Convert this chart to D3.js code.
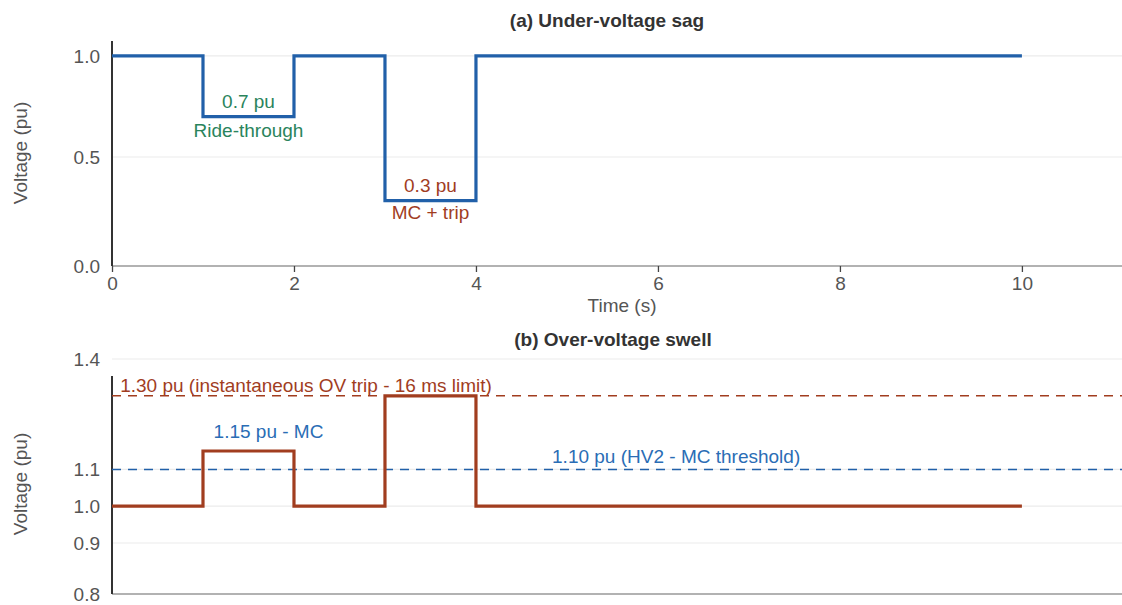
<!DOCTYPE html>
<html lang="en">

<head>
  <meta charset="UTF-8">
  <title>Voltage sag and swell</title>
  <script src="https://d3js.org/d3.v7.min.js"></script>
  <style>
    body { margin: 0; background: #fff; }
    text { font-family: "Liberation Sans", Arial, sans-serif; }
  </style>
</head>

<body>
  <script>
    // time breakpoints (s), step held until next point
    const times = [0, 1, 2, 3, 4, 10];
    const sagValues = [1.0, 0.7, 1.0, 0.3, 1.0, 1.0];
    const swellValues = [1.0, 1.15, 1.0, 1.3, 1.0, 1.0];

    const xTicks = [0, 2, 4, 6, 8, 10];
    const sagTicks = [0, 0.5, 1.0];
    const swellTicks = [0.8, 0.9, 1.0, 1.1, 1.4];

    const thresholdValues = [1.30, 1.10];
    const thresholdLabels = ['1.30 pu (instantaneous OV trip - 16 ms limit)', '1.10 pu (HV2 - MC threshold)'];

    const w = 1122;
    const h = 605;

    const blue = '#2160a9';
    const red = '#a13d1f';
    const green = '#2a845c';
    const labelSize = 19;

    const svg = d3.select('body')
      .append('svg')
      .attr('width', w)
      .attr('height', h)

    const xScale = d3.scaleLinear()
      .domain([0, 11.1])
      .range([112, 1122]);

    // the axis bottoms sit a little below the lowest labelled tick
    const ySag = d3.scaleLinear()
      .domain([0, 0.5, 1.074])
      .range([266, 157, 41]);

    const ySwell = d3.scaleLinear()
      .domain([0.8, 0.9, 1.4])
      .range([594, 543, 359]);

    function panel(y, ticks, yTop, yBottom) {
      const g = svg.append('g');

      // grid
      g.selectAll('.grid')
        .data(ticks.filter(t => y(t) < yBottom - 1))
        .enter()
        .append('line')
        .attr('x1', xScale.range()[0])
        .attr('x2', xScale.range()[1])
        .attr('y1', d => y(d))
        .attr('y2', d => y(d))
        .attr('stroke', '#ebebeb')
        .attr('stroke-width', 1.2)

      // y tick labels
      const yAxis = d3.axisLeft(y)
        .tickValues(ticks)
        .tickSize(0)
        .tickPadding(12)
        .tickFormat(d3.format('.1f'))

      g.append('g')
        .attr('transform', `translate(${xScale.range()[0]},0)`)
        .call(yAxis)
        .call(a => a.select('.domain').remove())
        .call(a => a.selectAll('text')
          .attr('font-size', 19)
          .attr('fill', '#555')
          .attr('font-family', '"Liberation Sans", Arial, sans-serif'))

      // x axis line
      g.append('line')
        .attr('x1', xScale.range()[0])
        .attr('x2', xScale.range()[1])
        .attr('y1', yBottom)
        .attr('y2', yBottom)
        .attr('stroke', '#999')
        .attr('stroke-width', 1.5)

      // y axis line
      g.append('line')
        .attr('x1', xScale.range()[0])
        .attr('x2', xScale.range()[0])
        .attr('y1', yTop)
        .attr('y2', yBottom)
        .attr('stroke', '#333')
        .attr('stroke-width', 2)

      return g;
    }

    // ---------- (a) sag ----------
    const sagPanel = panel(ySag, sagTicks, 41, 266);

    const xAxis = d3.axisBottom(xScale)
      .tickValues(xTicks)
      .tickSize(6)
      .tickPadding(5)

    sagPanel.append('g')
      .attr('transform', 'translate(0,266)')
      .call(xAxis)
      .call(a => a.select('.domain').remove())
      .call(a => a.selectAll('line').attr('stroke', '#444').attr('stroke-width', 1.3))
      .call(a => a.selectAll('text')
        .attr('font-size', 19)
        .attr('fill', '#555')
        .attr('font-family', '"Liberation Sans", Arial, sans-serif'))

    const sagLine = d3.line()
      .x((d, i) => xScale(times[i]))
      .y(d => ySag(d))
      .curve(d3.curveStepAfter)

    sagPanel.append('path')
      .datum(sagValues)
      .attr('d', sagLine)
      .attr('fill', 'none')
      .attr('stroke', blue)
      .attr('stroke-width', 3.2)

    sagPanel.append('text')
      .attr('x', xScale(1.5)).attr('y', ySag(0.7) - 15).attr('dy', '0.35em')
      .attr('text-anchor', 'middle').attr('font-size', labelSize).attr('fill', green)
      .text('0.7 pu')
    sagPanel.append('text')
      .attr('x', xScale(1.5)).attr('y', ySag(0.7) + 14).attr('dy', '0.35em')
      .attr('text-anchor', 'middle').attr('font-size', labelSize).attr('fill', green)
      .text('Ride-through')
    sagPanel.append('text')
      .attr('x', xScale(3.5)).attr('y', ySag(0.3) - 15).attr('dy', '0.35em')
      .attr('text-anchor', 'middle').attr('font-size', labelSize).attr('fill', red)
      .text('0.3 pu')
    sagPanel.append('text')
      .attr('x', xScale(3.5)).attr('y', ySag(0.3) + 12).attr('dy', '0.35em')
      .attr('text-anchor', 'middle').attr('font-size', labelSize).attr('fill', red)
      .text('MC + trip')

    svg.append('text')
      .attr('x', 607).attr('y', 20).attr('dy', '0.35em')
      .attr('text-anchor', 'middle').attr('font-size', 19).attr('font-weight', 'bold').attr('fill', '#333')
      .text('(a) Under-voltage sag')

    svg.append('text')
      .attr('x', 622).attr('y', 305).attr('dy', '0.35em')
      .attr('text-anchor', 'middle').attr('font-size', 19).attr('fill', '#555')
      .text('Time (s)')

    svg.append('text')
      .attr('transform', 'translate(20,153) rotate(-90)').attr('dy', '0.35em')
      .attr('text-anchor', 'middle').attr('font-size', 19).attr('fill', '#555')
      .text('Voltage (pu)')

    // ---------- (b) swell ----------
    const swellPanel = panel(ySwell, swellTicks, 376, 594);

    const colors = [red, blue];
    swellPanel.selectAll('.thr')
      .data(thresholdValues)
      .enter()
      .append('line')
      .attr('x1', xScale.range()[0])
      .attr('x2', xScale.range()[1])
      .attr('y1', d => ySwell(d))
      .attr('y2', d => ySwell(d))
      .attr('stroke', (d, i) => colors[i])
      .attr('stroke-width', 1.5)
      .attr('stroke-dasharray', '9,7')

    const swellLine = d3.line()
      .x((d, i) => xScale(times[i]))
      .y(d => ySwell(d))
      .curve(d3.curveStepAfter)

    swellPanel.append('path')
      .datum(swellValues)
      .attr('d', swellLine)
      .attr('fill', 'none')
      .attr('stroke', red)
      .attr('stroke-width', 3.2)

    swellPanel.append('text')
      .attr('x', xScale(0.09)).attr('y', ySwell(1.30) - 10).attr('dy', '0.35em')
      .attr('font-size', labelSize).attr('fill', red)
      .text(thresholdLabels[0])
    swellPanel.append('text')
      .attr('x', xScale(6.2)).attr('y', ySwell(1.10) - 13).attr('dy', '0.35em')
      .attr('text-anchor', 'middle').attr('font-size', labelSize).attr('fill', '#2a6db5')
      .text(thresholdLabels[1])
    swellPanel.append('text')
      .attr('x', xScale(1.72)).attr('y', ySwell(1.15) - 20).attr('dy', '0.35em')
      .attr('text-anchor', 'middle').attr('font-size', labelSize).attr('fill', '#2a6db5')
      .text('1.15 pu - MC')

    svg.append('text')
      .attr('x', 613).attr('y', 339).attr('dy', '0.35em')
      .attr('text-anchor', 'middle').attr('font-size', 19).attr('font-weight', 'bold').attr('fill', '#333')
      .text('(b) Over-voltage swell')

    svg.append('text')
      .attr('transform', 'translate(20,484) rotate(-90)').attr('dy', '0.35em')
      .attr('text-anchor', 'middle').attr('font-size', 19).attr('fill', '#555')
      .text('Voltage (pu)')
  </script>
</body>

</html>
